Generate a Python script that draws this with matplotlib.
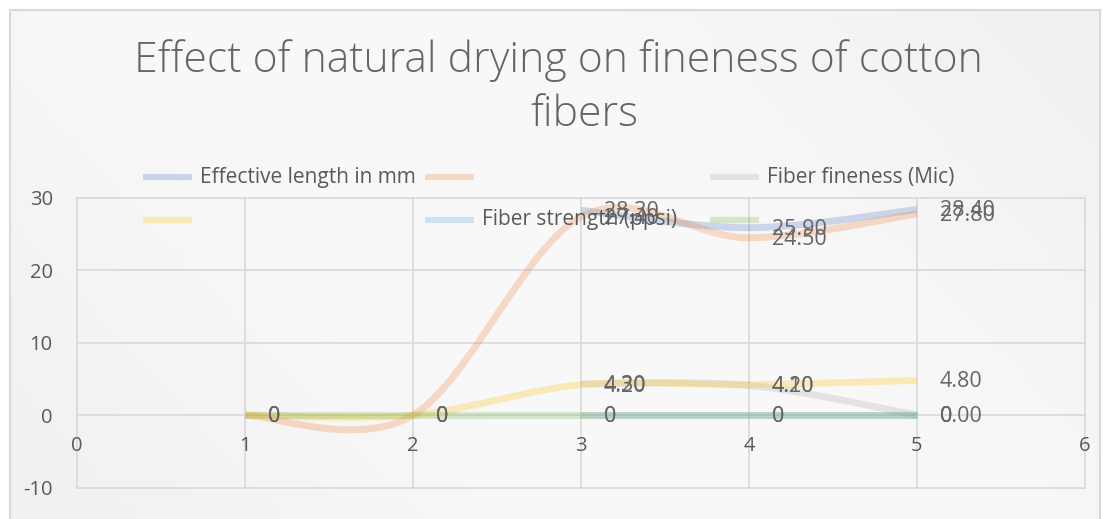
import numpy as np
import matplotlib
matplotlib.use("Agg")
import matplotlib.pyplot as plt
from matplotlib.lines import Line2D
from matplotlib.patches import Rectangle

plt.rcParams['font.family'] = ['Open Sans', 'DejaVu Sans']

# ---------------- data ----------------
title_lines = ["Effect of natural drying on fineness of cotton", "fibers"]
series_names = ["Effective length in mm", "", "Fiber fineness (Mic)", "",
                "Fiber strength (ppsi)", ""]
series_colors = ["#4472C4", "#ED7D31", "#A5A5A5", "#FFC000", "#5B9BD5", "#70AD47"]

eff_x = [3, 4, 5]
eff_len = [28.3, 25.9, 28.4]
s2_x = [1, 2, 3, 4, 5]
s2_vals = [0, 0, 27.4, 24.5, 27.8]
fin_x = [3, 4, 5]
fineness = [4.3, 4.1, 0.0]
s4_x = [1, 2, 3, 4, 5]
s4_vals = [0, 0, 4.2, 4.2, 4.8]
str_x = [3, 4, 5]
strength = [0, 0, 0]
s6_x = [1, 2, 3, 4, 5]
s6_vals = [0, 0, 0, 0, 0]

x_ticks = [0, 1, 2, 3, 4, 5, 6]
y_ticks = [-10, 0, 10, 20, 30]


def lab_general(v):
    return "0" if v == 0 else f"{v:.2f}"


def lab_fixed(v):
    return f"{v:.2f}"


series = [
    (eff_x, eff_len, lab_general),
    (s2_x, s2_vals, lab_general),
    (fin_x, fineness, lab_fixed),
    (s4_x, s4_vals, lab_general),
    (str_x, strength, lab_general),
    (s6_x, s6_vals, lab_general),
]


def excel_smooth(xs, ys, n=40):
    P = np.column_stack([xs, ys]).astype(float)
    m = len(P)
    out = []
    t = np.linspace(0, 1, n)[:, None]
    for i in range(m - 1):
        p0 = P[i - 1] if i > 0 else P[i]
        p1 = P[i]
        p2 = P[i + 1]
        p3 = P[i + 2] if i + 2 < m else P[i + 1]
        c1 = p1 + (p2 - p0) / 6.0
        c2 = p2 - (p3 - p1) / 6.0
        seg = ((1 - t) ** 3) * p1 + 3 * ((1 - t) ** 2) * t * c1 + 3 * (1 - t) * t ** 2 * c2 + t ** 3 * p2
        out.append(seg if i == 0 else seg[1:])
    c = np.vstack(out)
    return c[:, 0], c[:, 1]


# ---------------- figure ----------------
W, H = 1103, 519
fig = plt.figure(figsize=(W / 100, H / 100), dpi=100)
fig.patch.set_facecolor("white")


def fx(px):
    return px / W


def fy(py):
    return 1 - py / H


# background gradient of chart area
bg = fig.add_axes([fx(10), 0, fx(1100) - fx(10), fy(10)])
gx, gy = np.meshgrid(np.linspace(0, 1, 200), np.linspace(0, 1, 100))
d = (gx * 0.7 + (1 - gy) * 0.3)
val = 241 + 8 * np.sin(np.pi * d) ** 1.5
img = np.dstack([val, val, val]) / 255.0
bg.imshow(img, aspect="auto", extent=[0, 1, 0, 1], origin="upper")
bg.set_axis_off()
fig.patches.append(Rectangle((fx(10), fy(525)), fx(1100) - fx(10), fy(10) - fy(525),
                             fill=False, edgecolor="#d9d9d9", lw=1.5,
                             transform=fig.transFigure, zorder=5))

# plot axes
ax = fig.add_axes([fx(77), fy(487.5), fx(1085) - fx(77), fy(198) - fy(487.5)])
ax.set_facecolor("none")
ax.set_xlim(0, 6)
ax.set_ylim(-10, 30)
for s in ax.spines.values():
    s.set_visible(False)

grid_c = "#d9d9d9"
for xv in x_ticks:
    ax.axvline(xv, color=grid_c, lw=1.2, zorder=1, clip_on=False)
for yv in y_ticks:
    ax.axhline(yv, color=grid_c, lw=1.2, zorder=1, clip_on=False)

ax.set_yticks(y_ticks)
ax.set_yticklabels([str(v) for v in y_ticks])
ax.tick_params(axis="y", length=0, pad=17.5, labelsize=14.5, labelcolor="#595959")
ax.set_xticks([])
for xv in x_ticks:
    ax.annotate(str(xv), (xv, 0), xytext=(0, -22.5), textcoords="offset points",
                ha="center", va="center", fontsize=14.5, color="#595959",
                annotation_clip=False)

# lines
for i, (xs, ys, lf) in enumerate(series):
    sx, sy = excel_smooth(xs, ys)
    ax.plot(sx, sy, color=series_colors[i], alpha=0.25, lw=5,
            solid_capstyle="butt", zorder=2 + i, clip_on=False)

# data labels
for i, (xs, ys, lf) in enumerate(series):
    for xv, yv in zip(xs, ys):
        ax.annotate(lf(yv), (xv, yv), xytext=(16.5, -1), textcoords="offset points",
                    ha="left", va="center", fontsize=15.5, color="#666666",
                    zorder=20, annotation_clip=False)

# legend (manual, 3 columns x 2 rows)
sw_x = [143, 425, 710]
rows_y = [177, 220]
for k, name in enumerate(series_names):
    r, c = divmod(k, 3)
    y = rows_y[r]
    x0 = sw_x[c]
    fig.add_artist(Line2D([fx(x0), fx(x0 + 49)], [fy(y), fy(y)], transform=fig.transFigure,
                          color=series_colors[k], alpha=0.25, lw=4.5, solid_capstyle="butt",
                          zorder=6))
    if name:
        fig.text(fx(x0 + 57), fy(y), name, ha="left", va="center", fontsize=15,
                 color="#595959", zorder=6)

# title
fig.text(fx(558), fy(72), title_lines[0], ha="center", va="baseline", fontsize=30.8,
         color="#656565", fontweight="light")
fig.text(fx(584), fy(126), title_lines[1], ha="center", va="baseline", fontsize=30.8,
         color="#656565", fontweight="light")

fig.savefig("out.png", dpi=100)
